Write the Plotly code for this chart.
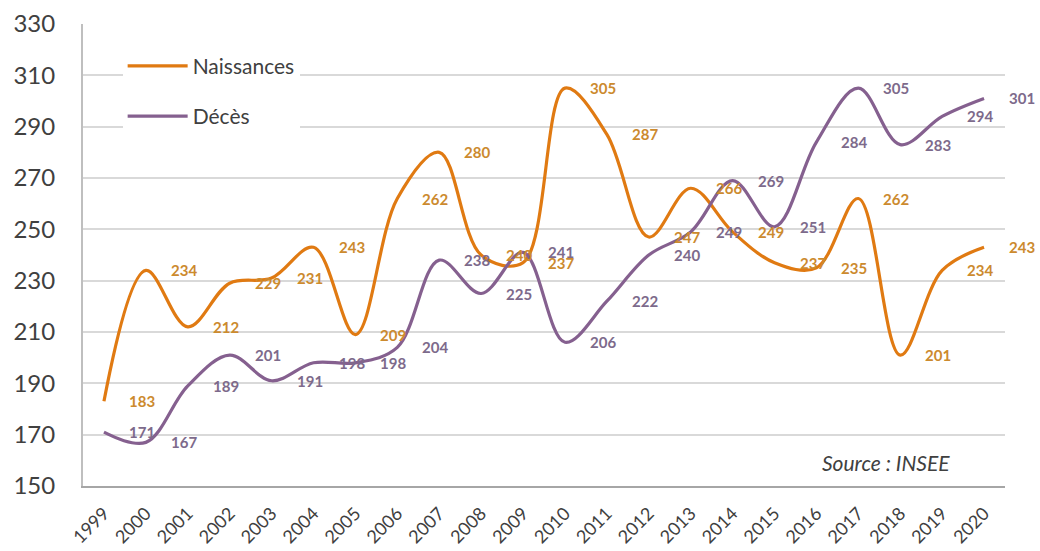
import plotly.graph_objects as go

# Years and annual counts (thousands)
years = list(range(1999, 2021))
naissances = [183, 234, 212, 229, 231, 243, 209, 262, 280, 240, 237,
              305, 287, 247, 266, 249, 237, 235, 262, 201, 234, 243]
deces = [171, 167, 189, 201, 191, 198, 198, 204, 238, 225, 241,
         206, 222, 240, 249, 269, 251, 284, 305, 283, 294, 301]
y_ticks = list(range(150, 331, 20))

ORANGE = "#E07A12"
PURPLE = "#85608F"
ORANGE_TXT = "#CC8A2E"
PURPLE_TXT = "#7D6A8B"
FONT = "Lato"

fig = go.Figure()
fig.add_trace(go.Scatter(
    x=years, y=naissances, name="Naissances", mode="lines",
    line=dict(color=ORANGE, width=3.2, shape="spline", smoothing=1.0),
    legendgroup="n", hoverinfo="x+y",
))
fig.add_trace(go.Scatter(
    x=years, y=deces, name="Décès", mode="lines",
    line=dict(color=PURPLE, width=3.2, shape="spline", smoothing=1.0),
    legendgroup="d", hoverinfo="x+y",
))

# Value labels, set to the right of each point
annotations = []
for series, color in ((naissances, ORANGE_TXT), (deces, PURPLE_TXT)):
    for yr, v in zip(years, series):
        annotations.append(dict(
            x=yr, y=v, xref="x", yref="y", text=f"<b>{v}</b>",
            showarrow=False, xanchor="center", yanchor="middle", xshift=38,
            font=dict(family=FONT, size=15, color=color),
        ))

annotations.append(dict(
    x=0.9425, y=0.05, xref="paper", yref="paper", text="<i>Source : INSEE</i>",
    showarrow=False, xanchor="right", yanchor="middle",
    font=dict(family=FONT, size=21, color="#404040"),
))

fig.update_layout(
    width=1040, height=551,
    margin=dict(l=83, r=35, t=24, b=65, autoexpand=False),
    paper_bgcolor="white", plot_bgcolor="white",
    showlegend=True,
    legend=dict(
        x=0.043, y=0.953, xanchor="left", yanchor="top",
        bgcolor="white", borderwidth=0,
        font=dict(family=FONT, size=21, color="#404040"),
        traceorder="grouped", tracegroupgap=20, itemwidth=60,
    ),
    annotations=annotations,
    xaxis=dict(
        range=[1998.5, 2020.5], tickmode="array", tickvals=years,
        ticktext=[str(y) for y in years], tickangle=-45,
        tickfont=dict(family=FONT, size=18, color="#404040"),
        showgrid=False, zeroline=False,
        showline=True, linecolor="#A6A6A6", linewidth=2,
        ticks="", ticklabelstandoff=8, fixedrange=True, automargin=False,
    ),
    yaxis=dict(
        range=[150, 330], tickmode="array", tickvals=y_ticks,
        tickfont=dict(family=FONT, size=24, color="#404040"),
        showgrid=True, gridcolor="#D9D9D9", gridwidth=1.5,
        zeroline=False, showline=True, linecolor="#BFBFBF", linewidth=2,
        ticks="", ticklabelstandoff=21, fixedrange=True, automargin=False,
    ),
)

fig.write_html("out.html")
